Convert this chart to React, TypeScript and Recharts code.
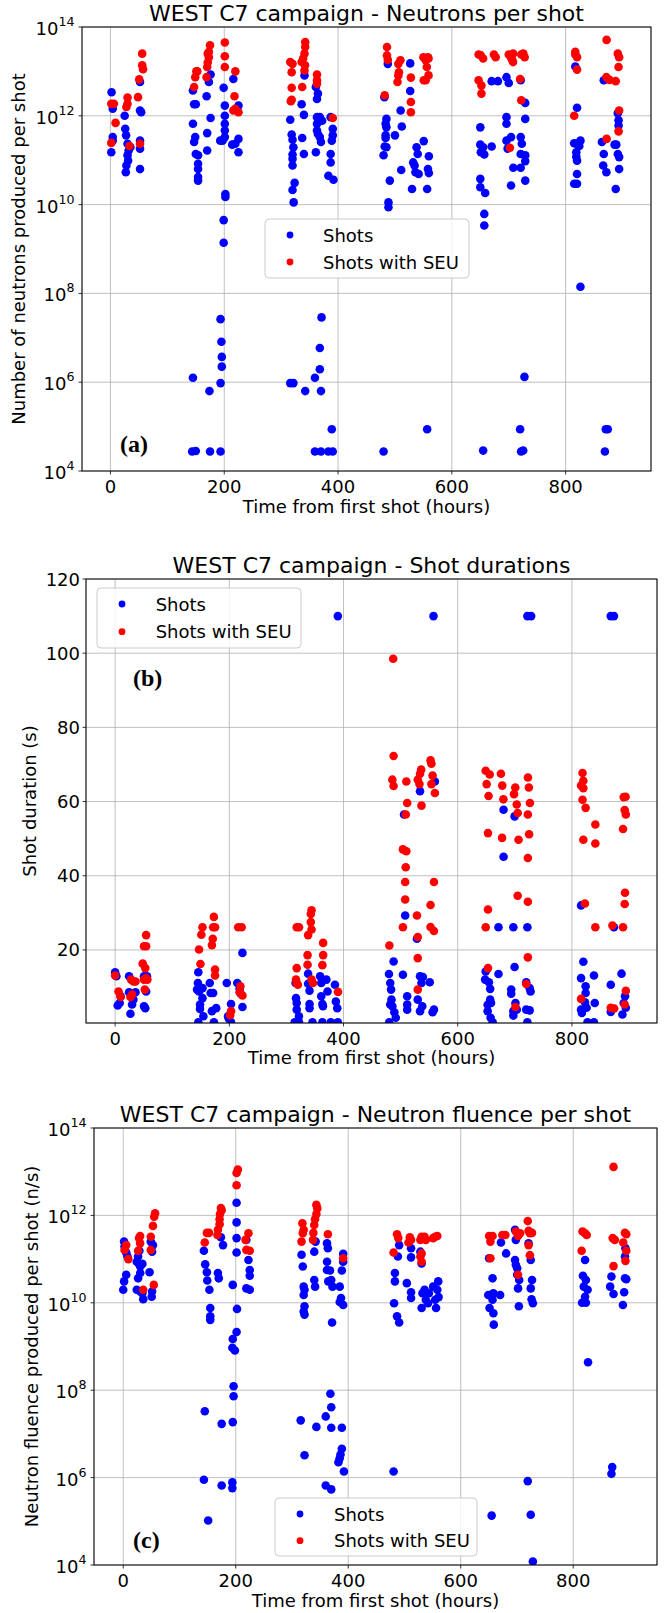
import React from "react";
import { ScatterChart, Scatter, XAxis, YAxis, CartesianGrid } from "recharts";

const FONT = '"DejaVu Sans", sans-serif';
const SERIF = '"Liberation Serif", "Times New Roman", serif';
const BLUE = "#0000ff";
const RED = "#ff0000";
const GRID = "#b0b0b0";

// ---- tick labels ----
const hourTicks = [0, 200, 400, 600, 800];
const logTicks = [1e4, 1e6, 1e8, 1e10, 1e12, 1e14];
const durationTicks = [20, 40, 60, 80, 100, 120];

// ---- legend / titles ----
const seriesNames = ["Shots", "Shots with SEU"];
const titles = [
  "WEST C7 campaign - Neutrons per shot",
  "WEST C7 campaign - Shot durations",
  "WEST C7 campaign - Neutron fluence per shot",
];
const yLabels = [
  "Number of neutrons produced per shot",
  "Shot duration (s)",
  "Neutron fluence produced per shot (n/s)",
];
const xLabel = "Time from first shot (hours)";
const panelTags = ["(a)", "(b)", "(c)"];

// ---- Panel (a): [hours, log10(neutrons per shot)] ----
const neutronsShots: [number, number][] = [
  [2, 12.53], [4, 12.16], [4, 11.52], [4, 11.44], [1.5, 11.18], [25, 12.0], [26, 11.71], [27.5, 11.56], [30, 11.37], [32, 11.22], [30, 11.11], [31, 10.99], [28, 10.88], [27, 10.73], [35, 11.29], [52, 12.76], [52, 12.12], [54, 12.08], [52, 11.44], [52, 11.26], [52, 10.8],
  [145, 12.57], [147, 12.26], [150, 12.26], [145, 11.82], [149, 11.52], [147, 11.41], [150, 11.14], [154, 11.11], [154, 10.92], [154, 10.8], [154, 10.62], [154, 10.54], [169, 12.44], [170, 11.61], [170, 11.22], [173, 12.76], [176, 11.95], [176, 12.93], [193, 11.44], [199, 12.63], [201, 12.23], [201, 12.0], [201, 11.82], [201, 11.67], [201, 11.52], [197, 11.44], [202, 10.24], [202, 10.17], [199, 9.65], [199, 9.14], [214, 11.35], [219.5, 11.37], [225, 11.48], [225, 11.18], [225, 12.23], [216, 12.83],
  [193.5, 7.42], [195, 6.91], [195.7, 6.57], [195.7, 6.35], [193.5, 5.98], [145, 6.1], [174, 5.8], [143.6, 4.44], [150, 4.45], [175, 4.44], [193.5, 4.44],
  [316, 11.91], [318.5, 11.58], [320, 11.46], [321.5, 11.29], [320, 11.13], [320, 11.03], [320, 10.88], [323.7, 10.49], [320, 10.33], [322, 10.05], [336, 12.26], [337, 11.5], [340, 12.02], [340, 11.14], [341, 12.91], [361, 12.65], [363, 12.38], [364.6, 12.5], [363, 11.97], [363, 11.82], [363, 11.67], [364.6, 11.59], [368, 11.52], [370, 11.41], [361, 11.18], [372, 11.89], [368, 11.97], [387, 11.97], [390.7, 11.71], [390.7, 11.56], [389, 11.44], [387, 11.14], [387, 10.95], [383, 10.65], [392, 10.56],
  [316, 5.98], [321.5, 5.98], [342.3, 5.8], [359.4, 6.1], [371, 7.46], [368, 6.77], [368, 6.29], [370, 5.8], [359.4, 4.44], [370, 4.44], [383, 4.44], [389, 4.94], [390.6, 4.44],
  [487.4, 13.17], [481.5, 12.42], [485, 11.93], [483.6, 11.82], [485, 11.74], [483.6, 11.56], [483.6, 11.5], [482, 11.31], [485, 11.29], [480, 11.11], [491, 10.54], [488.6, 10.05], [488.6, 9.94], [500, 11.56], [510, 12.12], [512, 11.76], [511, 10.78], [526.8, 12.56], [530, 10.35], [532, 10.95], [534.5, 10.88], [536, 10.73], [538, 11.29], [540, 11.14], [541.6, 10.69], [550.6, 11.43], [556.6, 10.35], [559.6, 11.09], [558, 10.8], [559.6, 10.71], [526.8, 13.18],
  [480, 4.44], [556.6, 4.94],
  [650, 11.74], [650, 11.35], [655, 11.29], [651, 11.18], [657, 11.13], [650, 10.58], [650, 10.39], [658.6, 10.26], [657, 9.79], [657, 9.53], [670, 11.31], [670, 12.78], [681, 12.78], [696, 12.87], [696, 11.97], [696, 11.82], [696, 11.44], [698, 11.26], [704, 11.52], [708, 10.83], [704, 10.43], [721, 11.52], [723, 11.37], [721, 11.14], [721, 10.83], [729, 11.93], [729, 12.29], [729, 11.11], [729, 10.98], [729, 10.54], [700, 12.74], [721, 12.8],
  [655, 4.46], [720, 4.94], [721.7, 4.44], [725.4, 4.46], [727.6, 6.12],
  [817, 13.11], [820, 12.18], [815, 11.38], [818.7, 11.37], [818.7, 11.18], [818.7, 11.08], [820, 10.99], [820, 10.69], [820, 10.47], [815, 10.47], [826, 11.44], [824, 11.32], [863.7, 11.41], [867, 11.14], [866, 10.88], [871.6, 10.73], [888, 10.35], [889, 11.35], [891.7, 11.14], [894, 11.07], [894, 10.8], [893, 11.78], [893, 11.9], [891.7, 12.06], [886, 11.35], [867, 12.8],
  [826, 8.15], [869, 4.44], [870.5, 4.94], [874, 4.94],
];
const neutronsSEU: [number, number][] = [
  [1.5, 12.27], [6, 12.27], [1.5, 11.39], [9, 11.84], [30, 12.41], [30, 12.27], [28, 12.2], [33.5, 11.32], [48.4, 12.42], [50.6, 12.82], [55.8, 13.4], [55.8, 13.14], [57.3, 13.05], [52, 11.37],
  [147, 12.65], [149, 12.87], [151, 13.0], [152.5, 13.0], [169, 12.87], [170, 13.1], [171, 13.2], [173, 13.32], [173, 13.44], [175, 13.59], [171, 13.4], [201, 13.65], [201, 13.34], [201, 13.1], [219.5, 13.0], [218, 12.44], [219.5, 12.16], [225, 12.08], [216, 12.12],
  [316, 13.21], [320, 13.17], [318.5, 12.98], [318.5, 12.63], [318.5, 12.36], [317, 12.33], [336, 13.21], [338.6, 13.29], [341, 13.4], [342.3, 13.55], [342.3, 13.66], [342, 13.14], [341, 13.02], [337, 12.65], [363, 12.93], [363, 12.8], [363, 12.72], [390.7, 11.95],
  [486, 13.55], [486, 13.36], [487.4, 13.26], [482, 12.46], [505.9, 13.17], [509.6, 13.25], [507, 12.98], [506, 12.91], [504.5, 12.76], [528, 12.86], [528, 12.31], [528, 12.08], [550, 13.32], [554, 13.25], [558, 13.32], [559, 13.29], [556, 13.1], [554, 12.8], [559, 12.91], [550.6, 12.8],
  [647, 13.38], [651, 13.36], [655, 13.29], [647, 12.8], [652, 12.68], [652, 12.5], [674, 13.38], [677, 13.32], [700, 13.38], [704, 13.31], [706, 13.26], [707.6, 13.4], [722, 13.38], [725.6, 13.4], [728, 13.32], [722, 12.35], [720, 12.83], [702, 11.28], [707.6, 13.21],
  [817, 13.44], [817, 13.38], [820, 13.32], [820, 13.04], [815, 12.0], [872, 13.71], [871.6, 12.87], [877, 12.81], [888, 12.78], [891.7, 13.4], [894, 13.32], [893, 13.1], [872, 11.48], [894, 12.12], [893, 11.65],
];

// ---- Panel (b): [hours, shot duration (s)] ----
const durationShots: [number, number][] = [
  [390, 110], [557.6, 110], [722, 110], [728.6, 110], [868, 110], [873.6, 110],
  [534, 62.8], [560, 65.4],
  [0, 14.0], [2.2, 12.9], [4.5, 5.0], [8, 5.7], [9.7, 7.5], [24.5, 12.9], [24.5, 8.6], [26.8, 2.8], [29.7, 5.3], [32, 6.6], [35.7, 8.6], [50.6, 12.9], [50.6, 4.8], [52.8, 4.3], [54.3, 8.8], [55.8, 12.9],
  [145.7, 14.0], [145, 11.1], [143.5, 9.3], [147, 8.8], [148.7, 5.3], [148.7, 4.1], [153, 7.0], [153, 9.7], [154.6, 2.1], [145.7, 0.5], [165.8, 11.1], [167.3, 8.4], [171.7, 8.4], [169.5, 3.5], [177, 4.3], [173, 0.5], [195.5, 11.1], [197.8, 2.1], [203, 5.4], [203, 0.5], [214, 11.1], [218, 9.5], [223, 19.2], [223, 4.6], [220, 8.2], [199, 1.5],
  [316, 11.1], [316.8, 7.0], [318, 5.7], [318, 3.9], [321.9, 2.1], [314.5, 0.5], [322, 0.5], [338, 13.6], [338, 10.9], [340.5, 9.0], [340.5, 5.4], [340.5, 4.3], [359, 12.9], [361, 11.1], [361, 7.5], [363, 5.4], [364, 4.8], [363, 0.5], [370, 12.0], [372, 8.8], [385, 10.6], [386.6, 6.1], [389, 4.3], [390, 0.5], [377.7, 0.5], [345.7, 0.5],
  [479.6, 13.5], [487.7, 16.9], [481.8, 11.1], [483.3, 9.3], [484, 6.6], [481.8, 5.3], [485.5, 4.8], [489, 3.2], [491.5, 1.7], [480, 0.5], [504, 13.3], [511.5, 7.5], [511.5, 5.3], [511.5, 3.9], [530, 6.6], [534, 12.9], [539, 12.7], [536.5, 11.1], [537.9, 4.8], [534, 3.5], [551, 11.3], [556, 3.2], [558.4, 3.9], [508, 29.3], [528.6, 23.0], [506, 56.5],
  [671.4, 26.1], [680.3, 57.8], [680.3, 45.1], [699.6, 56.0], [697.4, 26.1], [722, 26.1], [649, 14.2], [671.4, 13.5], [699.6, 15.4], [648, 12.0], [654.6, 11.3], [656.8, 9.5], [656.8, 6.6], [658.3, 5.7], [652.4, 5.2], [652.4, 3.5], [657.6, 1.7], [661.2, 0.5], [693.7, 9.3], [693.7, 8.2], [697.4, 3.5], [701.1, 5.7], [703.4, 3.9], [697.4, 2.3], [720, 11.3], [726, 9.7], [727.6, 8.8], [720, 3.9], [726, 3.7], [722, 0.5],
  [816, 32.0], [820, 16.8], [816, 12.4], [824, 10.2], [824, 8.4], [822.8, 5.9], [816, 3.9], [817.5, 3.0], [825.7, 4.4], [827.3, 0.5], [838.6, 13.1], [840, 5.7], [838.6, 0.5], [868, 10.6], [868, 3.3], [886.9, 13.6], [888.4, 2.6], [893, 7.5], [894.4, 4.4], [890.7, 5.7], [873.6, 26.1],
];
const durationSEU: [number, number][] = [
  [487, 98.5], [487.7, 72.3], [485.5, 65.9], [487.7, 64.2], [510, 65.4], [530, 65.9], [534, 67.5], [536, 68.6], [533, 64.7], [552.5, 71.1], [554, 70.2], [556, 67.0], [554, 64.7], [560, 62.3],
  [649, 68.3], [650.7, 64.7], [654, 61.5], [656, 67.3], [675.7, 67.5], [678, 64.3], [680, 60.6], [698.6, 62.0], [700.8, 63.8], [723, 66.5], [724.6, 63.8], [818.6, 67.7], [820, 65.6], [820, 63.6], [816, 64.3], [890.7, 61.2], [894, 61.3],
  [0, 13.1], [6, 8.8], [9.7, 7.3], [28, 12.0], [32, 11.5], [35.7, 11.5], [29.7, 8.0], [26.8, 7.3], [48.3, 16.3], [50.6, 21.0], [54.3, 21.0], [54.3, 24.0], [52.8, 15.1], [50.6, 12.0], [54.3, 12.4], [56.5, 12.0], [52, 9.3],
  [147, 20.1], [149.4, 16.2], [151, 24.1], [153, 26.1], [173, 28.9], [171.7, 26.1], [175, 26.1], [171, 23.0], [169.5, 21.3], [175, 14.7], [175, 13.1], [203, 3.5], [201.5, 2.4], [215.6, 26.1], [221.6, 26.1], [219.4, 10.2], [218, 8.6], [223, 7.7],
  [318, 15.1], [316.8, 12.0], [318, 11.1], [320, 10.6], [318, 26.1], [322, 26.1], [337, 18.6], [337, 16.0], [338, 24.0], [342.7, 27.5], [342.7, 29.7], [344, 30.7], [344, 25.5], [344, 12.0], [346.5, 11.1], [364.3, 21.9], [364.3, 18.6], [363, 15.9], [390.3, 8.7],
  [480.3, 21.2], [504, 47.1], [510, 46.6], [509, 42.3], [508, 38.3], [508, 33.6], [509, 56.5], [511.5, 59.6], [536.5, 58.9], [504, 26.1], [528.6, 29.3], [530, 23.5], [530, 17.8], [530, 9.3], [552.4, 32.1], [552.4, 26.2], [558.4, 25.1], [558.4, 38.3],
  [653, 51.5], [653, 30.9], [649, 26.1], [653, 15.1], [677.7, 50.2], [703.4, 59.2], [705, 56.9], [706.5, 49.7], [705, 34.6], [701, 4.6], [722.8, 56.5], [726.5, 59.6], [725, 51.2], [722.8, 44.8], [722.8, 33.0], [722.8, 18.0], [720, 10.8],
  [824, 58.3], [818.6, 60.5], [820, 49.7], [822.8, 32.5], [816, 6.8], [841, 53.8], [841, 48.7], [841, 26.1], [871, 26.6], [874, 4.2], [889.5, 52.6], [892.4, 57.7], [894.4, 56.5], [893, 35.4], [892.4, 32.4], [889.5, 26.1], [894.4, 9.0], [892.4, 5.3], [868, 4.4],
];

// ---- Panel (c): [hours, log10(neutron fluence n/s)] ----
const fluenceShots: [number, number][] = [
  [1.5, 11.4], [2.3, 11.29], [5.3, 11.15], [7.5, 11.06], [5.3, 10.64], [1.5, 10.49], [0, 10.3], [26.4, 11.06], [24, 10.94], [28, 10.89], [30.2, 10.83], [34, 10.89], [30.2, 10.68], [26.4, 10.56], [24, 10.3], [34, 10.22], [35.5, 10.08], [30.2, 10.26], [49, 11.4], [51.3, 11.17], [52.8, 11.32], [46.8, 10.7], [51.3, 10.26], [50.6, 10.14], [28.7, 11.19],
  [143.4, 11.19], [145.7, 10.88], [148.7, 10.7], [149.4, 10.51], [153.2, 10.3], [154.7, 9.88], [154.7, 9.69], [154.7, 9.61], [168.3, 10.68], [169.8, 10.56], [177.4, 11.32], [194.7, 10.41], [201.5, 12.29], [201.5, 11.84], [201.5, 11.48], [201.5, 11.15], [202.3, 9.86], [201.5, 9.33], [194.7, 9.17], [218.9, 11.44], [222.6, 10.98], [224.9, 10.75], [224.9, 10.62], [218.9, 10.33], [224.9, 10.3], [173.6, 11.5],
  [194, 8.97], [198.5, 8.91], [196.2, 8.09], [196.2, 7.86], [145, 7.52], [175, 7.23], [194.7, 7.27], [143.4, 5.95], [175, 5.82], [194, 5.89], [194, 5.76], [151, 5.02],
  [317, 11.1], [319.2, 10.83], [320.8, 10.37], [322.3, 10.3], [320.8, 10.18], [322.3, 9.92], [322.3, 9.73], [320.8, 9.8], [339.6, 10.52], [341.1, 10.37], [339.6, 11.17], [362.3, 11.36], [363.8, 11.25], [362.3, 10.94], [362.3, 10.75], [367.6, 10.74], [364.5, 10.49], [369.8, 10.52], [372, 10.37], [384.9, 10.37], [387.2, 10.11], [391, 9.95], [391, 11.12], [391, 10.94], [388.7, 10.74], [371.3, 9.55], [384.9, 10.02], [342, 11.4],
  [368.3, 7.92], [369.8, 7.61], [315.5, 7.31], [360, 7.4], [343.4, 7.16], [369.8, 7.14], [388.7, 7.14], [322.3, 6.51], [388.7, 6.66], [386.3, 6.53], [384.8, 6.44], [382.6, 6.35], [392.4, 6.14], [360, 5.82], [369.8, 5.73],
  [481.5, 9.99], [483, 10.68], [483, 10.49], [490.6, 11.32], [488.3, 11.06], [486.8, 9.69], [490.6, 9.55], [504.2, 10.45], [511.7, 10.24], [511.7, 10.11], [511.7, 11.25], [511.7, 11.04], [528.3, 11.17], [530.5, 10.9], [532, 10.22], [530.5, 9.88], [535.8, 10.3], [538, 10.07], [543.4, 10.22], [551, 10.37], [554.7, 10.07], [556.2, 9.88], [560, 10.49], [560.7, 10.13], [558.4, 10.3], [541.9, 9.99],
  [480.7, 6.14],
  [650.5, 11.02], [649, 10.18], [651.3, 9.88], [656.6, 10.56], [658.1, 10.22], [656.6, 10.07], [658.1, 9.76], [658.8, 9.5], [670.1, 10.18], [671.6, 11.38], [680.7, 11.13], [698, 11.44], [696.6, 10.98], [698, 10.87], [700.4, 10.79], [700.4, 10.64], [701.9, 10.33], [703.4, 9.92], [704, 10.52], [720.7, 11.36], [724.5, 10.98], [726.8, 10.52], [724.5, 10.33], [726, 10.08], [728.3, 9.99], [696.6, 11.67],
  [719.2, 5.92], [655, 5.13], [724.5, 5.15], [728.3, 4.08],
  [821.1, 10.98], [817.3, 10.62], [822.6, 10.52], [818.8, 10.37], [825.6, 10.3], [821.1, 10.14], [815.8, 10.0], [822.6, 10.0], [868, 10.6], [865.7, 10.37], [871.7, 10.2], [888.4, 9.95], [890.6, 10.24], [892.1, 10.56], [894.4, 10.54], [892.1, 11.06], [892.9, 11.25],
  [826.4, 8.64], [869.4, 6.24], [868, 6.09],
];
const fluenceSEU: [number, number][] = [
  [5.3, 11.32], [2.3, 11.21], [9, 11.0], [28, 11.48], [30, 11.53], [30, 11.36], [26.4, 11.19], [35.5, 10.3], [49, 11.51], [49, 11.21], [52.8, 11.76], [55, 11.97], [56.6, 12.05], [54.3, 10.41],
  [144.9, 11.38], [148.7, 11.6], [152.5, 11.6], [167.5, 11.55], [168.3, 11.67], [171.3, 11.8], [171.3, 11.91], [172, 12.03], [175, 12.12], [173.6, 12.17], [201.5, 12.69], [201.5, 12.97], [203.8, 13.05], [217.4, 11.44], [218.9, 11.21], [222.6, 11.59], [224.9, 11.19],
  [318.5, 11.82], [319.2, 11.59], [317, 11.4], [320.8, 11.67], [338, 11.6], [339.6, 11.78], [341, 11.91], [343.4, 12.03], [345, 12.16], [343.4, 12.24], [337.4, 11.44], [363.8, 11.57], [391, 11.02],
  [480.7, 11.15], [486.8, 11.57], [489, 11.48], [507.2, 11.38], [509.5, 11.5], [511.7, 11.44], [528.3, 11.44], [530.5, 11.13], [528.3, 11.06], [530.5, 10.94], [530.5, 11.51], [535.8, 11.51], [551, 11.48], [554.7, 11.51], [558.4, 11.53], [538, 11.44],
  [650.5, 11.53], [652.8, 11.4], [656.6, 11.53], [652.8, 11.02], [674, 11.55], [679.4, 11.55], [698, 11.63], [705.6, 11.59], [701.9, 11.53], [719.2, 11.87], [720.7, 11.65], [723, 11.59], [726.8, 11.6], [723, 11.09], [701.9, 10.64], [720.7, 11.32],
  [816.6, 11.63], [821.1, 11.59], [824, 11.55], [815, 11.19], [871.7, 13.11], [870.2, 11.48], [874, 11.44], [889, 11.38], [892, 11.6], [894.4, 11.57], [871.7, 10.84], [892.9, 10.96], [894.4, 11.19],
];

// convert read values into chart rows
const fromLog = (arr: [number, number][]) => arr.map(([t, e]) => ({ t, v: Math.pow(10, e) }));
const fromLin = (arr: [number, number][]) => arr.map(([t, v]) => ({ t, v }));

const dot = (color: string) => (props: any) =>
  props.cx == null ? <g /> : <circle cx={props.cx} cy={props.cy} r={4.3} fill={color} />;

const XTick = (props: any) => (
  <text x={props.x} y={props.y} dy={13.4} textAnchor="middle" fontFamily={FONT} fontSize={18} fill="#000">
    {props.payload.value}
  </text>
);
const PowTick = (props: any) => {
  const exp = Math.round(Math.log10(props.payload.value));
  return (
    <text x={props.x} y={props.y} textAnchor="end" fontFamily={FONT} fill="#000">
      <tspan fontSize={18} dy={8}>10</tspan>
      <tspan fontSize={12.6} dy={-9}>{exp}</tspan>
    </text>
  );
};
const NumTick = (props: any) => (
  <text x={props.x} y={props.y} dy={6.5} textAnchor="end" fontFamily={FONT} fontSize={18} fill="#000">
    {props.payload.value}
  </text>
);

type PanelProps = {
  top: number; height: number; plotLeft: number; plotRight: number; plotTop: number; plotBottom: number;
  xDomain: [number, number]; yDomain: [number, number]; log: boolean; yTicks: number[];
  shots: { t: number; v: number }[]; seu: { t: number; v: number }[]; yTickMargin: number;
};

const Panel = (p: PanelProps) => {
  const W = 665;
  return (
    <div style={{ position: "absolute", left: 0, top: p.top }}>
      <ScatterChart
        width={W}
        height={p.height}
        margin={{ top: p.plotTop - p.top, right: W - p.plotRight, bottom: 0, left: 0 }}
      >
        <CartesianGrid stroke={GRID} strokeWidth={0.8} />
        <XAxis
          type="number"
          dataKey="t"
          domain={p.xDomain}
          ticks={hourTicks}
          interval={0}
          allowDataOverflow
          height={p.top + p.height - p.plotBottom}
          axisLine={false}
          tickLine={{ stroke: "#000", strokeWidth: 0.8 }}
          tickSize={3.5}
          tickMargin={5}
          tick={<XTick />}
        />
        <YAxis
          type="number"
          dataKey="v"
          scale={p.log ? "log" : "linear"}
          domain={p.yDomain}
          ticks={p.yTicks}
          interval={0}
          allowDataOverflow
          width={p.plotLeft}
          axisLine={false}
          tickLine={{ stroke: "#000", strokeWidth: 0.8 }}
          tickSize={3.5}
          tickMargin={p.yTickMargin}
          tick={p.log ? <PowTick /> : <NumTick />}
        />
        <Scatter name={seriesNames[0]} data={p.shots} fill={BLUE} shape={dot(BLUE)} isAnimationActive={false} />
        <Scatter name={seriesNames[1]} data={p.seu} fill={RED} shape={dot(RED)} isAnimationActive={false} />
      </ScatterChart>
    </div>
  );
};

const LegendBox = ({ x, y, w, h, mx, tx, y1, y2 }: any) => (
  <g>
    <rect x={x} y={y} width={w} height={h} rx={4} fill="#ffffff" fillOpacity={0.8} stroke="#cccccc" strokeWidth={1} />
    <circle cx={mx} cy={y1} r={3.4} fill={BLUE} />
    <text x={tx} y={y1} dy={6.5} fontFamily={FONT} fontSize={18} fill="#000">{seriesNames[0]}</text>
    <circle cx={mx} cy={y2} r={3.4} fill={RED} />
    <text x={tx} y={y2} dy={6.5} fontFamily={FONT} fontSize={18} fill="#000">{seriesNames[1]}</text>
  </g>
);

const A = { l: 82, r: 651, t: 27, b: 471 };
const B = { l: 86, r: 657, t: 579, b: 1023 };
const C = { l: 94, r: 657, t: 1128, b: 1565 };

export default function App() {
  return (
    <div style={{ position: "absolute", left: 0, top: 0, width: 665, height: 1613, background: "#fff" }}>
      <Panel top={0} height={510} plotLeft={A.l} plotRight={A.r} plotTop={A.t} plotBottom={A.b}
        xDomain={[-50, 950]} yDomain={[1e4, 1e14]} log yTicks={logTicks} yTickMargin={4}
        shots={fromLog(neutronsShots)} seu={fromLog(neutronsSEU)} />
      <Panel top={540} height={510} plotLeft={B.l} plotRight={B.r} plotTop={B.t} plotBottom={B.b}
        xDomain={[-51, 949]} yDomain={[0.3, 120]} log={false} yTicks={durationTicks} yTickMargin={2.5}
        shots={fromLin(durationShots)} seu={fromLin(durationSEU)} />
      <Panel top={1090} height={523} plotLeft={C.l} plotRight={C.r} plotTop={C.t} plotBottom={C.b}
        xDomain={[-52, 949]} yDomain={[1e4, 1e14]} log yTicks={logTicks} yTickMargin={4}
        shots={fromLog(fluenceShots)} seu={fromLog(fluenceSEU)} />

      <svg width={665} height={1613} style={{ position: "absolute", left: 0, top: 0, pointerEvents: "none" }}>
        {[A, B, C].map((P, i) => (
          <rect key={i} x={P.l} y={P.t} width={P.r - P.l} height={P.b - P.t} fill="none" stroke="#000" strokeWidth={1} />
        ))}
        {/* titles */}
        <text x={(A.l + A.r) / 2} y={20.5} textAnchor="middle" fontFamily={FONT} fontSize={22} fill="#000">{titles[0]}</text>
        <text x={(B.l + B.r) / 2} y={572.5} textAnchor="middle" fontFamily={FONT} fontSize={22} fill="#000">{titles[1]}</text>
        <text x={(C.l + C.r) / 2} y={1121.5} textAnchor="middle" fontFamily={FONT} fontSize={22} fill="#000">{titles[2]}</text>
        {/* x labels */}
        <text x={(A.l + A.r) / 2} y={512.5} textAnchor="middle" fontFamily={FONT} fontSize={18} fill="#000">{xLabel}</text>
        <text x={(B.l + B.r) / 2} y={1064} textAnchor="middle" fontFamily={FONT} fontSize={18} fill="#000">{xLabel}</text>
        <text x={(C.l + C.r) / 2} y={1607} textAnchor="middle" fontFamily={FONT} fontSize={18} fill="#000">{xLabel}</text>
        {/* y labels */}
        <text transform={`translate(24.5, ${(A.t + A.b) / 2}) rotate(-90)`} textAnchor="middle" fontFamily={FONT} fontSize={18} fill="#000">{yLabels[0]}</text>
        <text transform={`translate(36, ${(B.t + B.b) / 2}) rotate(-90)`} textAnchor="middle" fontFamily={FONT} fontSize={18} fill="#000">{yLabels[1]}</text>
        <text transform={`translate(38, ${(C.t + C.b) / 2}) rotate(-90)`} textAnchor="middle" fontFamily={FONT} fontSize={18} fill="#000">{yLabels[2]}</text>
        {/* panel tags */}
        <text x={120} y={451.5} fontFamily={SERIF} fontWeight="bold" fontSize={24} fill="#000">{panelTags[0]}</text>
        <text x={133} y={686} fontFamily={SERIF} fontWeight="bold" fontSize={24} fill="#000">{panelTags[1]}</text>
        <text x={133} y={1547.5} fontFamily={SERIF} fontWeight="bold" fontSize={24} fill="#000">{panelTags[2]}</text>
        {/* legends */}
        <LegendBox x={265} y={219} w={204} h={59} mx={290} tx={323} y1={235} y2={262} />
        <LegendBox x={97} y={588} w={204} h={60} mx={122} tx={155.7} y1={604} y2={631.7} />
        <LegendBox x={275} y={1498} w={202} h={58} mx={300} tx={334} y1={1514} y2={1540.7} />
      </svg>
    </div>
  );
}
